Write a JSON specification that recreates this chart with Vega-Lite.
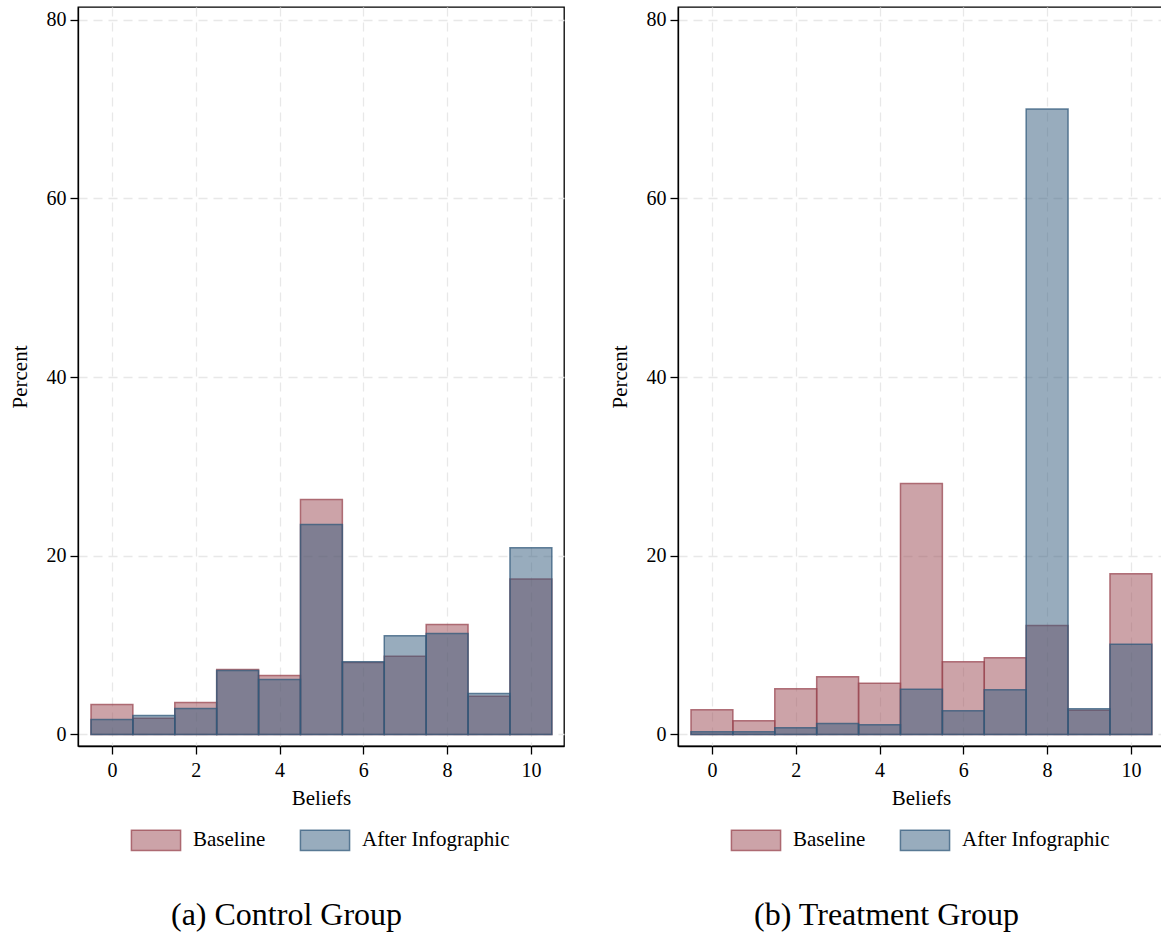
{
  "$schema": "https://vega.github.io/schema/vega-lite/v6.json",
  "padding": {"left": 8, "top": 6, "right": 0, "bottom": 0},
  "background": "white",
  "spacing": 43,
  "datasets": {
    "hist": [
      {"group": "Control", "series": "Baseline", "belief": 0, "bin_start": -0.5, "bin_end": 0.5, "percent": 3.35},
      {"group": "Control", "series": "Baseline", "belief": 1, "bin_start": 0.5, "bin_end": 1.5, "percent": 1.82},
      {"group": "Control", "series": "Baseline", "belief": 2, "bin_start": 1.5, "bin_end": 2.5, "percent": 3.57},
      {"group": "Control", "series": "Baseline", "belief": 3, "bin_start": 2.5, "bin_end": 3.5, "percent": 7.26},
      {"group": "Control", "series": "Baseline", "belief": 4, "bin_start": 3.5, "bin_end": 4.5, "percent": 6.6},
      {"group": "Control", "series": "Baseline", "belief": 5, "bin_start": 4.5, "bin_end": 5.5, "percent": 26.3},
      {"group": "Control", "series": "Baseline", "belief": 6, "bin_start": 5.5, "bin_end": 6.5, "percent": 8.05},
      {"group": "Control", "series": "Baseline", "belief": 7, "bin_start": 6.5, "bin_end": 7.5, "percent": 8.75},
      {"group": "Control", "series": "Baseline", "belief": 8, "bin_start": 7.5, "bin_end": 8.5, "percent": 12.3},
      {"group": "Control", "series": "Baseline", "belief": 9, "bin_start": 8.5, "bin_end": 9.5, "percent": 4.28},
      {"group": "Control", "series": "Baseline", "belief": 10, "bin_start": 9.5, "bin_end": 10.5, "percent": 17.4},
      {"group": "Control", "series": "After Infographic", "belief": 0, "bin_start": -0.5, "bin_end": 0.5, "percent": 1.68},
      {"group": "Control", "series": "After Infographic", "belief": 1, "bin_start": 0.5, "bin_end": 1.5, "percent": 2.12},
      {"group": "Control", "series": "After Infographic", "belief": 2, "bin_start": 1.5, "bin_end": 2.5, "percent": 2.9},
      {"group": "Control", "series": "After Infographic", "belief": 3, "bin_start": 2.5, "bin_end": 3.5, "percent": 7.15},
      {"group": "Control", "series": "After Infographic", "belief": 4, "bin_start": 3.5, "bin_end": 4.5, "percent": 6.15},
      {"group": "Control", "series": "After Infographic", "belief": 5, "bin_start": 4.5, "bin_end": 5.5, "percent": 23.5},
      {"group": "Control", "series": "After Infographic", "belief": 6, "bin_start": 5.5, "bin_end": 6.5, "percent": 8.15},
      {"group": "Control", "series": "After Infographic", "belief": 7, "bin_start": 6.5, "bin_end": 7.5, "percent": 11.05},
      {"group": "Control", "series": "After Infographic", "belief": 8, "bin_start": 7.5, "bin_end": 8.5, "percent": 11.3},
      {"group": "Control", "series": "After Infographic", "belief": 9, "bin_start": 8.5, "bin_end": 9.5, "percent": 4.58},
      {"group": "Control", "series": "After Infographic", "belief": 10, "bin_start": 9.5, "bin_end": 10.5, "percent": 20.9},
      {"group": "Treatment", "series": "Baseline", "belief": 0, "bin_start": -0.5, "bin_end": 0.5, "percent": 2.77},
      {"group": "Treatment", "series": "Baseline", "belief": 1, "bin_start": 0.5, "bin_end": 1.5, "percent": 1.53},
      {"group": "Treatment", "series": "Baseline", "belief": 2, "bin_start": 1.5, "bin_end": 2.5, "percent": 5.12},
      {"group": "Treatment", "series": "Baseline", "belief": 3, "bin_start": 2.5, "bin_end": 3.5, "percent": 6.47},
      {"group": "Treatment", "series": "Baseline", "belief": 4, "bin_start": 3.5, "bin_end": 4.5, "percent": 5.72},
      {"group": "Treatment", "series": "Baseline", "belief": 5, "bin_start": 4.5, "bin_end": 5.5, "percent": 28.1},
      {"group": "Treatment", "series": "Baseline", "belief": 6, "bin_start": 5.5, "bin_end": 6.5, "percent": 8.15},
      {"group": "Treatment", "series": "Baseline", "belief": 7, "bin_start": 6.5, "bin_end": 7.5, "percent": 8.6},
      {"group": "Treatment", "series": "Baseline", "belief": 8, "bin_start": 7.5, "bin_end": 8.5, "percent": 12.19},
      {"group": "Treatment", "series": "Baseline", "belief": 9, "bin_start": 8.5, "bin_end": 9.5, "percent": 2.72},
      {"group": "Treatment", "series": "Baseline", "belief": 10, "bin_start": 9.5, "bin_end": 10.5, "percent": 18.0},
      {"group": "Treatment", "series": "After Infographic", "belief": 0, "bin_start": -0.5, "bin_end": 0.5, "percent": 0.3},
      {"group": "Treatment", "series": "After Infographic", "belief": 1, "bin_start": 0.5, "bin_end": 1.5, "percent": 0.3},
      {"group": "Treatment", "series": "After Infographic", "belief": 2, "bin_start": 1.5, "bin_end": 2.5, "percent": 0.75},
      {"group": "Treatment", "series": "After Infographic", "belief": 3, "bin_start": 2.5, "bin_end": 3.5, "percent": 1.23},
      {"group": "Treatment", "series": "After Infographic", "belief": 4, "bin_start": 3.5, "bin_end": 4.5, "percent": 1.08},
      {"group": "Treatment", "series": "After Infographic", "belief": 5, "bin_start": 4.5, "bin_end": 5.5, "percent": 5.05},
      {"group": "Treatment", "series": "After Infographic", "belief": 6, "bin_start": 5.5, "bin_end": 6.5, "percent": 2.65},
      {"group": "Treatment", "series": "After Infographic", "belief": 7, "bin_start": 6.5, "bin_end": 7.5, "percent": 5.0},
      {"group": "Treatment", "series": "After Infographic", "belief": 8, "bin_start": 7.5, "bin_end": 8.5, "percent": 70.0},
      {"group": "Treatment", "series": "After Infographic", "belief": 9, "bin_start": 8.5, "bin_end": 9.5, "percent": 2.88},
      {"group": "Treatment", "series": "After Infographic", "belief": 10, "bin_start": 9.5, "bin_end": 10.5, "percent": 10.1}
    ]
  },
  "config": {
    "font": "Liberation Serif",
    "view": {"stroke": "black", "strokeWidth": 1.3},
    "axis": {
      "labelFont": "Liberation Serif", "titleFont": "Liberation Serif",
      "labelFontSize": 20, "titleFontSize": 21, "titleFontWeight": "normal",
      "labelColor": "black", "titleColor": "black",
      "domainColor": "black", "tickColor": "black", "domainWidth": 1.3, "tickWidth": 1.3,
      "tickSize": 8,
      "gridColor": "#e8e8e8", "gridDash": [9, 6], "gridWidth": 1.3
    },
    "axisX": {"labelPadding": 6, "titlePadding": 7},
    "axisY": {"labelPadding": 4, "titlePadding": 16},
    "legend": {
      "orient": "bottom", "direction": "horizontal", "title": null,
      "labelFont": "Liberation Serif", "labelFontSize": 21, "labelColor": "black",
      "symbolType": "M-2.4,-1L2.4,-1L2.4,1L-2.4,1Z", "symbolSize": 420,
      "symbolOffset": 13, "labelOffset": 26, "columnPadding": 31,
      "symbolStrokeWidth": 1.5, "offset": 21,
      "layout": {"bottom": {"anchor": "middle"}}
    },
    "title": {"font": "Liberation Serif", "fontSize": 32, "fontWeight": "normal", "color": "black", "frame": "bounds"}
  },
  "resolve": {"legend": {"fill": "independent", "stroke": "independent"}},
  "hconcat": [
    {
      "width": 486, "height": 739,
      "data": {"name": "hist"},
      "transform": [{"filter": "datum.group === 'Control'"}],
      "title": {"text": "(a) Control Group", "orient": "bottom", "offset": 46, "frame": "bounds"},
      "mark": {"type": "bar", "fillOpacity": 0.5, "strokeOpacity": 0.75, "strokeWidth": 1.5},
      "encoding": {
        "x": {"field": "bin_start", "type": "quantitative", "scale": {"domain": [-0.81, 10.79], "nice": false, "zero": false}, "axis": {"values": [0, 2, 4, 6, 8, 10], "title": "Beliefs"}},
        "x2": {"field": "bin_end"},
        "y": {"field": "percent", "type": "quantitative", "stack": null, "scale": {"domain": [-1.29, 81.42], "nice": false, "zero": false}, "axis": {"values": [0, 20, 40, 60, 80], "title": "Percent"}},
        "y2": {"datum": 0},
        "fill": {"field": "series", "type": "nominal", "scale": {"domain": ["Baseline", "After Infographic"], "range": ["#994751", "#31597b"]},
          "legend": {"encode": {"symbols": {"update": {"fillOpacity": {"value": 0.5}, "strokeOpacity": {"value": 0.75}}}}}},
        "stroke": {"field": "series", "type": "nominal", "scale": {"domain": ["Baseline", "After Infographic"], "range": ["#994751", "#31597b"]}}
      }
    },
    {
      "width": 486, "height": 739,
      "data": {"name": "hist"},
      "transform": [{"filter": "datum.group === 'Treatment'"}],
      "title": {"text": "(b) Treatment Group", "orient": "bottom", "offset": 46, "frame": "bounds"},
      "mark": {"type": "bar", "fillOpacity": 0.5, "strokeOpacity": 0.75, "strokeWidth": 1.5},
      "encoding": {
        "x": {"field": "bin_start", "type": "quantitative", "scale": {"domain": [-0.81, 10.79], "nice": false, "zero": false}, "axis": {"values": [0, 2, 4, 6, 8, 10], "title": "Beliefs"}},
        "x2": {"field": "bin_end"},
        "y": {"field": "percent", "type": "quantitative", "stack": null, "scale": {"domain": [-1.29, 81.42], "nice": false, "zero": false}, "axis": {"values": [0, 20, 40, 60, 80], "title": "Percent"}},
        "y2": {"datum": 0},
        "fill": {"field": "series", "type": "nominal", "scale": {"domain": ["Baseline", "After Infographic"], "range": ["#994751", "#31597b"]},
          "legend": {"encode": {"symbols": {"update": {"fillOpacity": {"value": 0.5}, "strokeOpacity": {"value": 0.75}}}}}},
        "stroke": {"field": "series", "type": "nominal", "scale": {"domain": ["Baseline", "After Infographic"], "range": ["#994751", "#31597b"]}}
      }
    }
  ]
}
